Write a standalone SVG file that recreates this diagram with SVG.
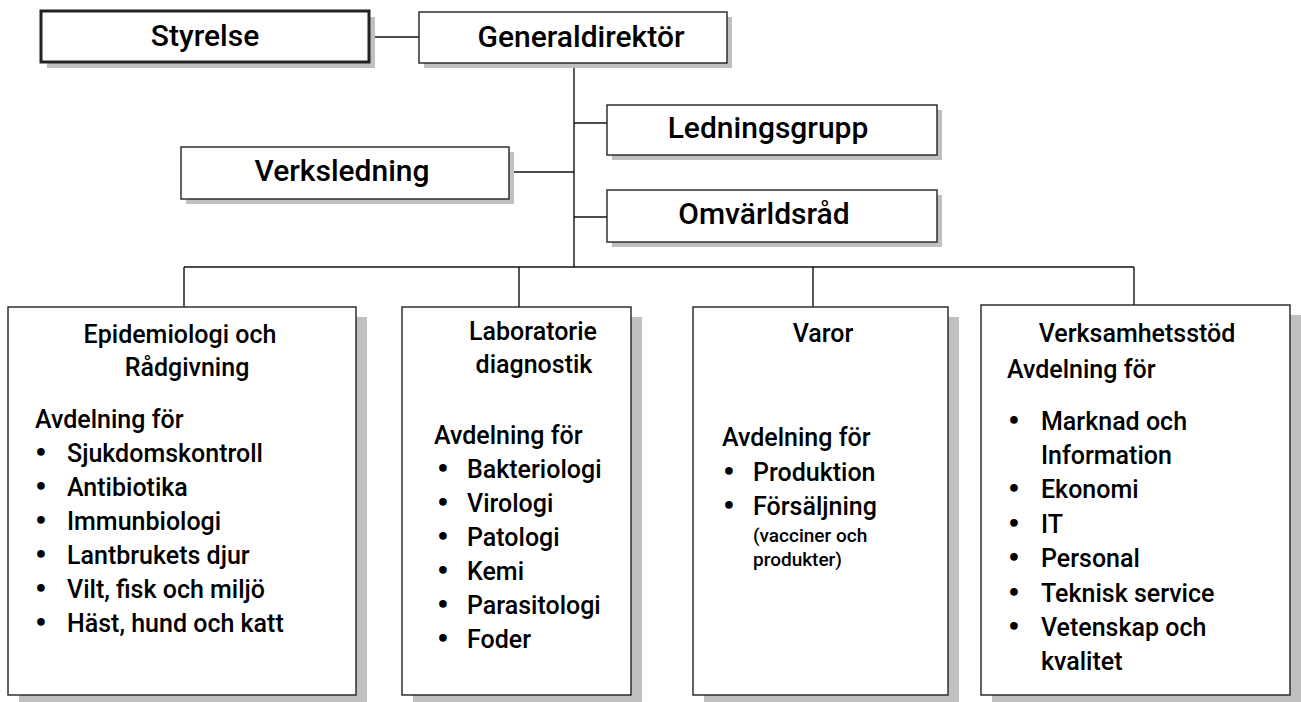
<svg xmlns="http://www.w3.org/2000/svg" width="1301" height="702" viewBox="0 0 1301 702">
<style>
.box{fill:#fff;stroke:#222;stroke-width:1.4}
.thick{stroke-width:3}
.sh{fill:#c0c0c0}
.ln{stroke:#111;stroke-width:1.4;fill:none}
text{font-family:Roboto,"Liberation Sans",sans-serif;font-weight:500;fill:#000}
.top{font-size:30px;text-anchor:middle}
.t{font-size:25px}
.c{text-anchor:middle}
.s{font-size:19px}
.b{font-size:28px;text-anchor:middle;stroke:#000;stroke-width:1.5}
</style>
<rect width="1301" height="702" fill="#fff"/>
<g id="connectors">
<line class="ln" x1="369" y1="37" x2="419" y2="37"/>
<line class="ln" x1="574" y1="63" x2="574" y2="267"/>
<line class="ln" x1="509" y1="172" x2="574" y2="172"/>
<line class="ln" x1="574" y1="123" x2="607" y2="123"/>
<line class="ln" x1="574" y1="217" x2="607" y2="217"/>
<line class="ln" x1="184" y1="267" x2="1134" y2="267"/>
<line class="ln" x1="184" y1="267" x2="184" y2="307"/>
<line class="ln" x1="519" y1="267" x2="519" y2="307"/>
<line class="ln" x1="813" y1="267" x2="813" y2="307"/>
<line class="ln" x1="1134" y1="267" x2="1134" y2="305"/>
</g>
<g id="styrelse">
<rect class="sh" x="47" y="17" width="328" height="51"/>
<rect class="box thick" x="41" y="11" width="328" height="51"/>
<text class="top" x="205" y="46">Styrelse</text>
</g>
<g id="generaldirektor">
<rect class="sh" x="424" y="17" width="308" height="51"/>
<rect class="box" x="419" y="12" width="308" height="51"/>
<text class="top" x="581" y="47">Generaldirektör</text>
</g>
<g id="verksledning">
<rect class="sh" x="186" y="152" width="328" height="52"/>
<rect class="box" x="181" y="147" width="328" height="52"/>
<text class="top" x="342" y="181">Verksledning</text>
</g>
<g id="ledningsgrupp">
<rect class="sh" x="612" y="110" width="330" height="50"/>
<rect class="box" x="607" y="105" width="330" height="50"/>
<text class="top" x="768" y="138">Ledningsgrupp</text>
</g>
<g id="omvarldsrad">
<rect class="sh" x="612" y="195" width="330" height="52"/>
<rect class="box" x="607" y="190" width="330" height="52"/>
<text class="top" x="764" y="224">Omvärldsråd</text>
</g>
<g id="epidemiologi">
<rect class="sh" x="19" y="317" width="348" height="388"/>
<rect class="box" x="8" y="307" width="348" height="388"/>
<text class="t c" x="180" y="343">Epidemiologi och</text>
<text class="t c" x="187" y="376">Rådgivning</text>
<text class="t" x="35" y="428">Avdelning för</text>
<text class="b" x="41" y="462">•</text><text class="t" x="67" y="462">Sjukdomskontroll</text>
<text class="b" x="41" y="496">•</text><text class="t" x="67" y="496">Antibiotika</text>
<text class="b" x="41" y="530">•</text><text class="t" x="67" y="530">Immunbiologi</text>
<text class="b" x="41" y="564">•</text><text class="t" x="67" y="564">Lantbrukets djur</text>
<text class="b" x="41" y="598">•</text><text class="t" x="67" y="598">Vilt, fisk och miljö</text>
<text class="b" x="41" y="632">•</text><text class="t" x="67" y="632">Häst, hund och katt</text>
</g>
<g id="laboratorie">
<rect class="sh" x="413" y="317" width="229" height="388"/>
<rect class="box" x="402" y="307" width="229" height="388"/>
<text class="t c" x="533" y="340">Laboratorie</text>
<text class="t c" x="534" y="373">diagnostik</text>
<text class="t" x="434" y="444">Avdelning för</text>
<text class="b" x="443" y="478">•</text><text class="t" x="467" y="478">Bakteriologi</text>
<text class="b" x="443" y="512">•</text><text class="t" x="467" y="512">Virologi</text>
<text class="b" x="443" y="546">•</text><text class="t" x="467" y="546">Patologi</text>
<text class="b" x="443" y="580">•</text><text class="t" x="467" y="580">Kemi</text>
<text class="b" x="443" y="614">•</text><text class="t" x="467" y="614">Parasitologi</text>
<text class="b" x="443" y="648">•</text><text class="t" x="467" y="648">Foder</text>
</g>
<g id="varor">
<rect class="sh" x="704" y="317" width="255" height="388"/>
<rect class="box" x="693" y="307" width="255" height="388"/>
<text class="t c" x="823" y="342">Varor</text>
<text class="t" x="722" y="446">Avdelning för</text>
<text class="b" x="729" y="481">•</text><text class="t" x="753" y="481">Produktion</text>
<text class="b" x="729" y="515">•</text><text class="t" x="753" y="515">Försäljning</text>
<text class="s" x="753" y="542">(vacciner och</text>
<text class="s" x="753" y="566">produkter)</text>
</g>
<g id="verksamhetsstod">
<rect class="sh" x="992" y="315" width="309" height="390"/>
<rect class="box" x="981" y="305" width="309" height="390"/>
<text class="t c" x="1137" y="342">Verksamhetsstöd</text>
<text class="t" x="1007" y="378">Avdelning för</text>
<text class="b" x="1014" y="430">•</text><text class="t" x="1041" y="430">Marknad och</text>
<text class="t" x="1041" y="464">Information</text>
<text class="b" x="1014" y="498">•</text><text class="t" x="1041" y="498">Ekonomi</text>
<text class="b" x="1014" y="533">•</text><text class="t" x="1041" y="533">IT</text>
<text class="b" x="1014" y="567">•</text><text class="t" x="1041" y="567">Personal</text>
<text class="b" x="1014" y="602">•</text><text class="t" x="1041" y="602">Teknisk service</text>
<text class="b" x="1014" y="636">•</text><text class="t" x="1041" y="636">Vetenskap och</text>
<text class="t" x="1041" y="670">kvalitet</text>
</g>
</svg>
